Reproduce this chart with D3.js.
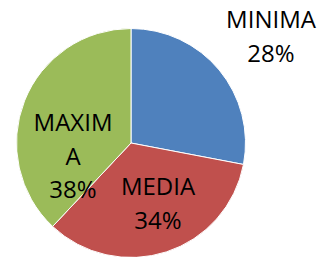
<!DOCTYPE html>
<html>
<head>
<meta charset="utf-8">
<script src="https://cdn.jsdelivr.net/npm/d3@7"></script>
<style>
  body { margin: 0; background: #fff; }
  svg { display: block; }
  .label { font-family: "Open Sans", sans-serif; font-size: 24px; fill: #000; }
</style>
</head>
<body>
<svg id="chart" width="323" height="257"></svg>
<script>
const categories = ["MINIMA", "MEDIA", "MAXIMA"];
const values = [28, 34, 38];
const colors = ["#4F81BD", "#C0504D", "#9BBB59"];
// label text lines as Excel wrapped them
const labelLines = [["MINIMA", "28%"], ["MEDIA", "34%"], ["MAXIM", "A", "38%"]];

const svg = d3.select("#chart");
const cx = 131, cy = 143, radius = 114.5;

const g = svg.append("g").attr("transform", `translate(${cx},${cy})`);

const pie = d3.pie().sort(null).value(d => d)(values);
const arc = d3.arc().innerRadius(0).outerRadius(radius);

g.selectAll("path.slice")
    .data(pie)
    .join("path")
    .attr("class", "slice")
    .attr("d", arc)
    .attr("fill", (d, i) => colors[i])
    .attr("stroke", "#fff")
    .attr("stroke-width", 1);

// label anchors (first baseline), relative to pie center
const labelPos = [[140, -115], [27, 52], [-58, -12]];
const lineH = 33.5;

g.selectAll("text.label")
    .data(pie)
    .join("text")
    .attr("class", "label")
    .attr("text-anchor", "middle")
    .attr("transform", (d, i) => `translate(${labelPos[i][0]},${labelPos[i][1]})`)
    .each(function(d, i) {
        d3.select(this).selectAll("tspan")
            .data(labelLines[i])
            .join("tspan")
            .attr("x", 0)
            .attr("y", (t, j) => j * lineH)
            .text(t => t);
    });
</script>
</body>
</html>
